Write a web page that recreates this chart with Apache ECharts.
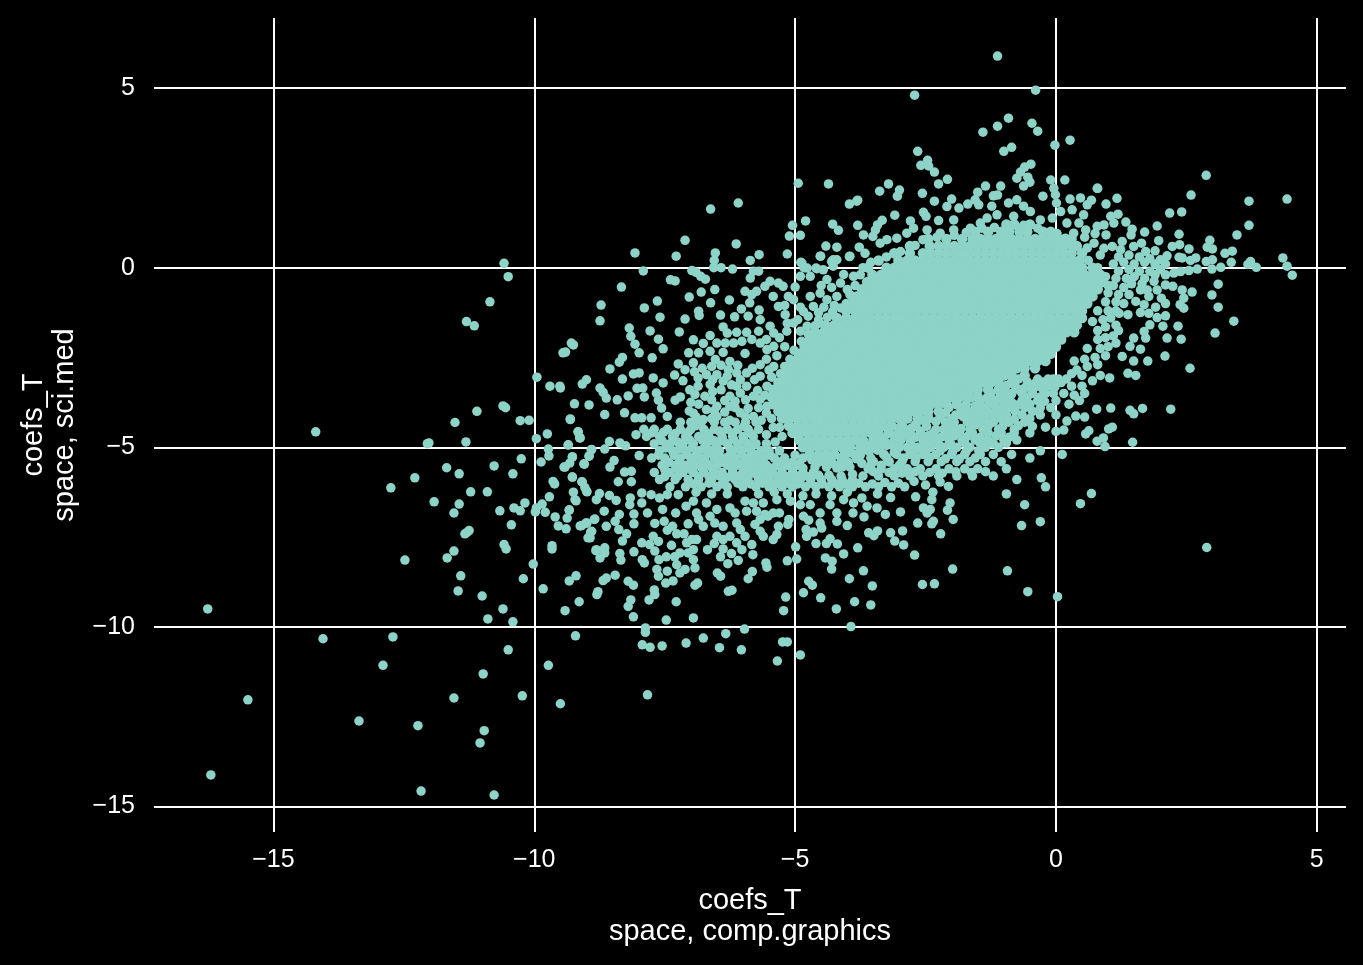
<!DOCTYPE html>
<html><head><meta charset="utf-8">
<script src="https://cdn.jsdelivr.net/npm/echarts@6/dist/echarts.min.js"></script>
<style>html,body{margin:0;padding:0;background:#000}#c{width:1363px;height:965px}</style>
</head><body><div id="c"></div>
<script>
const xTicks=[-15,-10,-5,0,5];
const yTicks=[-15,-10,-5,0,5];
const xLabel="coefs_T\nspace, comp.graphics";
const yLabel="coefs_T\nspace, sci.med";
// isolated points, [x, y]
const lowerLeftPoints=[[-14.19,-4.57],[-16.26,-9.5],[-15.49,-12.03],[-16.2,-14.12],[-14.05,-10.33],[-12.71,-10.28],[-12.9,-11.07],[-13.36,-12.62],[-12.23,-12.75],[-11.54,-11.98],[-10.98,-11.31],[-10.5,-10.64],[-10.96,-12.89],[-11.04,-13.23],[-12.17,-14.57],[-10.77,-14.68],[-10.23,-11.92],[-9.5,-12.14],[-9.73,-11.07],[-9.21,-10.25],[-10.89,-9.78],[-10.41,-9.86],[-10.6,-9.5],[-11,-9.14],[-11.46,-9],[-11.41,-8.58],[-12.48,-8.14],[-11.67,-8.08],[-11.54,-7.89],[-10.21,-8.66],[-10.02,-8.25],[-9.83,-8.94],[-9.33,-8.72],[-9.2,-8.58],[-9.41,-9.55],[-9.14,-9.3],[-8.8,-9.1],[-8.78,-9.02],[-11.33,-7.41],[-11.25,-7.32],[-11.29,-7.37],[-10.44,-7.16],[-10.58,-7.71],[-10.54,-7.83],[-9.66,-7.74],[-9.66,-7.83],[-10.66,-6.77],[-11.54,-6.83],[-11.44,-6.58],[-11.92,-6.52],[-12.75,-6.13],[-12.29,-5.85],[-11.68,-5.57],[-11.44,-5.74],[-11.22,-6.24],[-10.9,-6.24],[-10.77,-5.52],[-10.41,-5.74],[-10.25,-5.32],[-12.02,-4.88],[-11.31,-4.85],[-11.52,-4.31],[-10.27,-4.26],[-9.96,-4.76],[-9.75,-4.63],[-9.31,-4.23],[-9.16,-4.57],[-9.12,-4.74],[-9.35,-4.93],[-9.73,-5.05],[-9.72,-5.24],[-9.87,-5.41],[-9.27,-5.27],[-9.32,-5.44],[-9.43,-5.55],[-9.04,-5.47],[-8.91,-5.07],[-8.95,-5.24],[-9.27,-5.83],[-9.64,-5.95],[-9.61,-6.02],[-9.08,-5.97],[-9.03,-6.12],[-8.99,-6.24],[-9.25,-6.25],[-9.2,-6.49],[-9.71,-6.38],[-10.18,-6.55],[-9.85,-6.58],[-9.96,-6.69],[-9.98,-6.8],[-10.39,-6.69],[-10.27,-6.77],[-9.79,-6.81],[-9.6,-6.94],[-9.33,-6.74],[-9.37,-6.97],[-9.54,-7.19],[-9.39,-7.27],[-9.12,-7.19],[-9.01,-7.11],[-8.84,-7],[-8.92,-7.36],[-8.97,-7.52],[-8.82,-7.88],[-9.22,-6.46],[-9.33,-6.75],[-11.1,-4],[-10.6,-3.85],[-10.55,-3.9],[-11.3,-1.5],[-11.15,-1.62],[-10.85,-0.95],[-10.58,0.12],[-10.5,-0.25],[-12.05,-4.9],[-10.1,-4.25],[-9.95,-3.05],[-9.4,-2.35],[-9.25,-2.15],[-9.7,-3.3],[-9.5,-3.35]];
const upperLeftPoints=[[-6.62,1.63],[-6.09,1.8],[-7.11,0.76],[-6.13,0.66],[-8.07,0.41],[-7.28,0.32],[-6.53,0.41],[-6.55,0.2],[-6.56,0],[-6.42,0],[-6.2,-0.04],[-5.69,0.36],[-5.86,0.2],[-7.91,-0.09],[-6.98,-0.08],[-6.9,-0.13],[-6.81,-0.24],[-6.72,-0.32],[-7.39,-0.34],[-7.3,-0.37],[-8.33,-0.54],[-6.54,-0.61],[-6.8,-0.68],[-7.03,-0.82],[-7.64,-0.93],[-8.72,-1.04],[-7.89,-1.12],[-6.62,-0.98],[-6.26,-0.9],[-6.85,-1.21],[-6.84,-1.33],[-6.43,-1.32],[-6.16,-1.37],[-6.03,-1.15],[-5.9,-1.35],[-5.69,-1.18],[-8.74,-1.48],[-7.59,-1.38],[-7.11,-1.43],[-8.18,-1.68],[-7.78,-1.76],[-7.22,-1.79],[-6.38,-1.65],[-6.3,-1.82],[-8.15,-1.91],[-7.62,-1.99],[-8.07,-2.13],[-7.53,-2.26],[-6.95,-2.01],[-9.29,-2.1],[-9.45,-2.37],[-7.99,-2.37],[-7.04,-2.37],[-7.74,-2.51],[-8.31,-2.5],[-8.37,-2.63],[-8.55,-2.82],[-7.99,-2.93],[-8.1,-2.96],[-8.31,-3.1],[-7.72,-3.07],[-7.53,-3.21],[-7.31,-2.99],[-7.24,-2.68],[-7.11,-2.84],[-6.95,-2.65],[-9,-3.12],[-9.08,-3.24],[-9.51,-3.3],[-8.74,-3.35],[-8.68,-3.47],[-8.62,-3.63],[-8.41,-3.68],[-8.2,-3.57],[-8.03,-3.36],[-7.92,-3.35],[-7.89,-3.6],[-7.66,-3.49],[-7.62,-3.69],[-7.56,-3.91],[-7.3,-3.69],[-9.23,-3.79],[-8.95,-3.82],[-8.65,-4.09],[-8.27,-4.04],[-9.31,-4.21],[-8.07,-4.18],[-7.94,-4.18],[-7.76,-4.18],[-7.45,-4.14],[-7.03,-3.99],[-9.16,-4.57],[-9.13,-4.74],[-8.05,-4.65],[-9.35,-4.94],[-8.56,-4.84],[-8.36,-4.88],[-8.25,-4.96],[-8.9,-5.06],[-8.65,-5.05],[-8.95,-5.25],[-7.99,-5.23],[-9.27,-5.27],[-9.41,-5.55],[-9.05,-5.46],[-8.47,-5.37],[-8.55,-5.55],[-9.27,-5.83],[-8.27,-5.69],[-8.14,-5.67],[-8.14,-5.96],[-8.39,-5.96],[-9.09,-5.96],[-9,-6.22],[-8.75,-6.29],[-8.56,-6.34],[-8.16,-6.41],
[-5.8,-0.1],[-5.7,-0.1],[-5.86,-0.29],[-5.48,-0.38],[-5.58,-0.52],[-5.32,-0.43],[-5.23,-0.52],[-5.42,-0.8],[-5.13,-0.8],[-5.32,-1.08],[-5,-0.54],[-4.87,0.13],[-4.77,-0.01],[-4.9,-0.24],[-4.71,-0.24],[-4.58,-0.03],[-4.51,0.32],[-5.96,-0.66],[-5.83,-0.75],[-5.74,-0.66],[-5.87,-0.98],[-5.19,-1.31],[-4.84,-1.22],[-5.03,-0.89],[-4.65,-1.08],[-4.39,-0.33],[-4.13,-0.43],[-4.46,-0.06],[-4.27,0.04],[-4.07,-0.19],[-3.88,-0.24],[-4.27,0.22],[-3.95,0.32],[-4.52,-0.71],[-4.39,-0.89],[-4.2,-0.8],[-4,-0.61],[-4.71,-0.8],[-5.03,-1.54],[-4.9,-1.77],[-4.77,-1.63],[-5.16,-1.77],[-5.48,-1.63],[-5.67,-1.45],[-5.41,-1.82],[-5.7,-1.77],[-5.93,-1.8],[-6.12,-1.8],[-6.63,-1.89],[-6.76,-2.11],[-6.85,-2.37],[-6.5,-2.1],[-6.34,-2.1],[-6.18,-2.1],[-6.02,-2.05],[-5.83,-2],[-5.67,-2.1],[-5.41,-2.19],[-6.63,-2.33],[-6.38,-2.36],[-5.96,-2.39],[-5.67,-2.7],[-5.54,-2.28],[-6.25,-2.61],[-6.28,-2.84],[-6.53,-2.56],[-6.7,-2.98],[-6.5,-2.98],[-6.38,-3.16],[-6.22,-3.26],[-6.86,-3.07],[-7.02,-3.4],[-6.86,-3.3],[-6.63,-3.25],[-6.73,-3.58],[-6.92,-3.53],[-6.12,-2.93],[-5.93,-2.93],[-5.67,-3.02],[-5.41,-2.75],[-5.93,-3.3],[-6.05,-3.49],[-6.25,-3.58],[-5.67,-3.67],[-5.35,-3.58],[-5.54,-3.3],[-5.8,-3.58],[-6.5,-3.86],[-6.7,-3.95],[-6.76,-4.23],[-6.5,-4.14],[-6.25,-3.86],[-6.05,-4.04],[-5.8,-4.14],[-5.54,-3.86],[-5.28,-4.04],[-5.03,-3.86]];
const topPoints=[[-1.12,5.89],[-0.39,4.94],[-2.71,4.8],[-0.91,4.16],[-1.12,3.94],[-1.4,3.77],[-0.46,4.02],[-0.35,3.8],[-0.02,3.41],[0.27,3.55],[-0.85,3.35],[-1,3.24],[-2.65,3.24],[-2.46,2.99],[-2.59,2.85],[-2.44,2.83],[-2.33,2.66],[-2.08,2.46],[-2.25,2.33],[-0.48,2.88],[-0.6,2.8],[-0.68,2.66],[-0.75,2.49],[-0.54,2.52],[-0.5,2.38],[-0.62,2.27],[-0.1,2.44],[0.17,2.44],[-4.94,2.35],[-4.36,2.33],[-3.21,2.33],[-3.38,2.13],[-3,2.16],[-3.04,1.99],[-2.56,2.07],[-3.8,1.88],[-3.96,1.77],[-2.33,1.85],[-2,1.91],[-1.35,2.27],[-1.06,2.27],[-1.5,2.1],[-1.12,2.02],[-1.2,2],[-0.25,1.99],[-0.04,2.21],[-0.01,2.03],[0.01,1.8],[0.27,1.91],[0.47,1.94],[0.68,1.88],[0.6,1.75],[0.79,2.21],[-1.55,1.89],[-1.48,1.75],[-1.69,1.77],[-2.09,1.7],[-1.86,1.66],[-1.23,1.71],[-0.75,1.89],[-0.91,1.8],[-0.62,1.71],[-3.09,1.46],[-2.54,1.54],[-2.49,1.43],[-2.79,1.3],[-2.25,1.31],[-3.33,1.32],[-3.42,1.19],[-3.8,1.18],[-4.28,1.21],[-4.17,1.04],[-5.05,1.18],[-5.11,0.88],[-5.15,0.38],[-3.46,1.05],[-3.69,0.91],[-3.51,0.87],[-4.41,0.6],[-4.2,0.57],[-4.52,0.32],[-3.77,0.57],[-3.96,0.31],[-4.89,0.15],[-4.83,0],[-4.6,-0.01],[-4.2,0.22],[-4.3,0.17],[-3.66,0.4],[-3.37,0.68],[-3.05,0.82],[-3.24,0.78],[-2.86,0.96],[-2.73,1.1],[-2.47,1.05],[-2.22,0.96],[-1.96,1.05],[-1.96,1.33],[-1.64,1.1],[-1.45,1.24],[-1.13,1.47],[-1.32,1.38],[-0.81,1.43],[-0.49,1.56],[-0.3,1.33],[0.09,1.56],[0.31,1.61],[0.53,1.47],[0.44,1.24],[0.57,1.05],[0.79,1.15],[0.21,1.24],[-0.07,1.38],[0.73,0.68],[0.34,0.96],[-3.82,1.85],[-4.9,0.9],[-4.8,1.3]];
const rightPoints=[[2.88,2.57],[2.59,2.02],[4.43,1.91],[3.7,1.85],[3.7,1.18],[2.41,1.55],[2.18,1.52],[3.47,0.91],[1.94,1.16],[2.36,0.93],[2.95,0.76],[2.9,0.57],[3,0.52],[2.55,0.52],[2.23,0.59],[2.37,0.64],[1.97,0.75],[3.24,0.4],[3.38,0.46],[3.36,0.15],[3.73,0.17],[3.68,0.09],[3.84,0.01],[4.35,0.27],[4.43,0.04],[4.53,-0.21],[3.16,0.01],[2.99,-0.04],[3,0.22],[2.88,0.17],[2.68,0.27],[2.58,0.2],[2.42,0.27],[2.36,0.29],[2.71,-0.04],[2.55,-0.08],[2.39,-0.11],[2.26,-0.15],[2.1,-0.2],[2.13,0.33],[2,0.22],[1.9,0.47],[1.72,0.45],[3.11,-0.46],[2.99,-0.76],[3.11,-1.1],[3.41,-1.49],[3.05,-1.82],[2.61,-0.68],[2.42,-0.62],[2.45,-0.85],[2.38,-1.03],[2.45,-1.13],[2.24,-0.52],[2.1,-0.48],[2.1,-1],[2.02,-0.85],[1.94,-0.62],[1.88,-0.38],[1.75,-0.62],[1.62,-0.62],[1.78,-0.8],[1.53,-0.94],[1.69,-1.03],[1.91,-1.1],[2.1,-1.34],[1.94,-1.39],[1.78,-1.27],[1.62,-1.25],[1.38,-1.31],[1.21,-1.27],[2.05,-1.63],[2.34,-1.63],[1.8,-1.59],[2.13,-1.96],[2.4,-1.99],[1.69,-1.78],[1.72,-1.96],[1.49,-1.96],[1.42,-2.19],[1.62,-2.27],[1.27,-2.47],[1.49,-2.6],[1.76,-2.6],[2.09,-2.46],[2.57,-2.8],[1.38,-2.94],[1.53,-3],[1.03,-3.07],[2.2,-3.94],[1.42,-3.97],[1.49,-4.07],[1.05,-3.91],[0.78,-3.94],[0.55,-4.16],[0.38,-4.13],[0.21,-4.27],[0,-4.56],[0.15,-4.52],[-0.2,-4.44],[0.57,-4.63],[0.63,-4.54],[1.01,-4.49],[1.08,-4.44],[0.79,-4.83],[0.91,-4.74],[0.94,-4.98],[1.47,-4.86],[0.8,2.21],[1.17,1.93],[0.96,1.77],[1.19,1.49],[1.05,1.43],[1.11,1.24],[0.92,1.19],[1.34,1.27],[1.46,1.07],[1.44,0.91],[1.7,0.99],[1.64,0.68],[0.96,0.91],[1.27,0.73],[1.49,0.59],[1.08,0.59],[0.92,0.54],[1.24,0.5],[0.55,0.85],[0.75,0.95],[0.6,0.55],[0.85,0.35],[1.2,0.3],[1.4,0.35],[1.6,0.3],[1.8,0.25],[1.1,0.1],[1.3,0.15],[1.5,0.1],[1.7,0.15],[1.9,0.1],[2.1,0.1],[1.2,-0.1],[1.4,-0.05],[1.6,-0.1],[1.8,-0.1],[2,-0.05],[1.15,-0.3],[1.35,-0.3],[1.5,-0.25],[1.7,-0.3],[1.9,-0.2],[1.1,-0.5],[1.3,-0.55],[1.45,-0.45],[1.65,-0.45],[1,-0.7],[1.2,-0.75],[1.4,-0.75],[0.95,-0.95],[1.15,-0.95],[1.3,-1],[0.8,-1.2],[1,-1.2],[1.15,-1.2],[0.7,-1.5],[0.9,-1.45],[1.05,-1.4],[1.15,-1.6],[0.95,-1.65],[0.8,-1.75],[1.2,-1.75],[1.1,-1.9],[0.95,-1.95],[0.8,-2],[1.15,-2.1],[1,-2.2],[0.85,-2.25],[0.6,-2.25],[0.95,-2.45],[0.75,-2.5],[0.55,-2.55],[0.35,-2.6],[0.8,-2.7],[0.6,-2.75],[0.4,-2.85],[0.3,-2.95],[0.5,-3],[0.7,-3.15],[0.85,-3],[0.1,-3.2],[0.3,-3.3],[0.5,-3.3],[0.15,-3.5],[0.35,-3.55],[0.55,-3.5],[0.25,-3.8],[0.45,-3.7],[0,-3.7],[-0.2,-3.5],[-0.1,-3.9],[-0.3,-4.1],[0,-4.1],[1.66,-3.92],[0.12,-5.2],[-0.2,-6.1],[-0.28,-5.85],[0.47,-6.57],[0.68,-6.29],[2.89,-7.79],[0.03,-9.16],[-0.54,-9.02],[-0.93,-8.44],[-0.66,-7.18],[-0.3,-7.07],[-0.5,-5.3],[-0.3,-5.1],[-0.75,-5.9],[-0.95,-6.3],[-0.6,-6.6]];
const bottomPoints=[[-7.83,-11.89],[-7.93,-10.5],[-7.78,-10.57],[-7.55,-10.53],[-7.09,-10.45],[-6.76,-10.31],[-6.33,-10.19],[-6.45,-10.58],[-6.03,-10.64],[-5.97,-10.06],[-7.87,-10.03],[-7.87,-10.15],[-5.24,-10.42],[-5.15,-10.42],[-5.34,-10.95],[-4.9,-10.78],[-3.93,-9.99],[-7.47,-9.81],[-6.95,-9.75],[-8.1,-9.72],[-7.28,-9.3],[-8.2,-9.43],[-8.15,-9.25],[-7.8,-9.25],[-7.7,-8.97],[-7.69,-9.1],[-8.68,-8.71],[-8.62,-8.64],[-8.45,-8.56],[-8.2,-8.73],[-8.1,-8.84],[-7.48,-8.78],[-7.34,-8.72],[-6.92,-8.84],[-6.87,-8.78],[-6.28,-9.01],[-6.21,-8.98],[-6.49,-8.5],[-6.43,-8.59],[-5.9,-8.66],[-5.82,-8.46],[-5.56,-8.22],[-5.54,-8.34],[-5.15,-8.16],[-4.97,-8.11],[-4.99,-7.77],[-5.18,-9.17],[-5.22,-9.55],[-4.84,-9.05],[-4.74,-8.73],[-4.67,-8.84],[-4.51,-9.19],[-4.21,-9.5],[-3.86,-9.3],[-3.55,-9.39],[-3.52,-8.86],[-3.96,-8.66],[-3.69,-8.44],[-4.3,-8.39],[-4.29,-8.17],[-4.42,-8.08],[-4.07,-7.97],[-3.8,-7.8],[-2.71,-8],[-2.92,-7.72],[-3.09,-7.61],[-3.17,-7.38],[-2.94,-7.33],[-3.59,-7.38],[-3.49,-7.46],[-3.42,-7.33],[-1.98,-8.39],[-2.33,-8.8],[-2.56,-8.82],[-2.21,-7.41],[-2.65,-7.11],[-2.35,-7.06],[-2.38,-7.13],[-1.97,-7.01],[-2.03,-6.55],[-2.08,-6.75],[-2.41,-6.73],[-2.54,-6.69],[-2.47,-6.83],[-2.38,-6.46],[-2.36,-6.25],[-2.69,-6.38],[-2.98,-6.8],[-3.27,-6.87],[-3.43,-6.69],[-3.68,-6.94],[-3.89,-6.83],[-4,-7.18],[-4.2,-7.06],[-4.49,-7.25],[-4.65,-7.36],[-4.79,-7.29],[-4.78,-7.48],[-4.6,-7.68],[-4.4,-7.68],[-4.19,-7.69],[-4.33,-7.55],[-4.74,-7.03],[-4.84,-6.92],[-4.52,-6.83],[-4.52,-7.11],[-2.06,-6.09],[-2.22,-5.97],
[-9.09,-7.18],[-8.99,-7.11],[-8.85,-7.01],[-8.66,-6.78],[-8.81,-6.46],[-8.43,-6.48],[-8.17,-6.6],[-8.09,-6.86],[-8.37,-6.87],[-8.45,-7.06],[-8.38,-7.29],[-8.09,-7.13],[-8.62,-7.2],[-8.9,-7.34],[-8.93,-7.52],[-8.23,-7.41],[-8.31,-7.61],[-8.81,-7.85],[-8.65,-7.8],[-8.74,-8.08],[-8.65,-7.94],[-8.36,-7.96],[-8.34,-8.14],[-8.09,-7.91],[-7.93,-8.13],[-7.89,-8.22],[-7.94,-7.66],[-7.83,-6.83],[-7.69,-7.12],[-7.54,-6.73],[-7.51,-7.06],[-7.45,-7.31],[-7.35,-7.2],[-7.27,-7.41],[-7.13,-7.41],[-7.29,-6.83],[-7.05,-7.13],[-7.94,-6.27],[-7.94,-6.55],[-7.76,-6.32],[-7.6,-6.41],[-7.45,-6.32],[-7.24,-6.32],[-7.09,-6.64],[-6.95,-6.5],[-6.7,-6.55],[-6.89,-6.83],[-6.85,-7.01],[-6.76,-7.2],[-6.63,-6.92],[-6.5,-6.73],[-6.38,-7.2],[-6.54,-7.11],[-6.25,-6.69],[-6.15,-6.83],[-6.12,-7.11],[-6.05,-7.29],[-5.96,-7.48],[-6.5,-7.48],[-6.38,-7.57],[-6.25,-7.48],[-6.12,-7.66],[-6.02,-7.85],[-5.83,-7.71],[-5.81,-7.99],[-6.09,-8.15],[-6.29,-8.24],[-6.43,-8.05],[-6.22,-7.96],[-6.38,-7.83],[-6.55,-7.68],[-6.68,-7.85],[-6.89,-7.57],[-6.98,-7.57],[-7.08,-7.66],[-6.95,-7.85],[-7.05,-7.94],[-7.21,-7.94],[-7.31,-8.05],[-7.47,-8.05],[-7.61,-8.13],[-7.69,-7.89],[-7.79,-7.71],[-7.72,-7.48],[-7.62,-7.62],[-7.37,-7.73],[-6.95,-8.13],[-6.92,-8.36],[-7.11,-8.4],[-7.21,-8.5],[-7.27,-8.27],[-7.45,-8.45],[-7.65,-8.4],[-7.62,-8.59],[-5.67,-7.34],[-5.61,-7.48],[-5.42,-7.57],[-5.35,-7.43],[-5.32,-7.2],[-5.14,-7.15],[-5.12,-7.01],[-5.52,-6.92],[-5.67,-7.01],[-5.77,-7.15],[-5.93,-6.78],[-5.74,-6.78],[-5.58,-6.87],[-5.42,-6.83],[-5.3,-6.83],[-5.8,-6.55],[-5.96,-6.5],[-5.61,-6.55],[-5.35,-6.46],[-5.09,-6.5],[-4.9,-6.6],[-4.71,-6.6],[-4.33,-6.6],[-4.2,-6.83],[-4.07,-6.46],[-3.88,-6.55],[-3.72,-6.41],[-3.62,-6.64],[-3.17,-6.4],[-3.42,-6.3],[-6.3,-6.3],[-6.6,-6.3],[-6.9,-6.25],[-5.7,-6.3],[-5.4,-6.25],[-5.15,-6.3],[-4.85,-6.35],[-4.6,-6.3],[-4.3,-6.35],[-4,-6.25]];
const midCloudPoints=[[-6.93,-2.9],[-6.6,-2.75],[-6.42,-2.72],[-6.1,-2.72],[-5.82,-2.8],[-5.55,-2.55],[-5.45,-3.05],[-5.78,-3.12],[-6.05,-3.12],[-6.3,-3.02],[-6.58,-3.12],[-6.78,-2.8],[-7.15,-3.15],[-7.2,-3.6],[-7,-3.75],[-6.85,-3.8],[-6.58,-3.45],[-6.42,-3.4],[-6.12,-3.3],[-5.72,-3.42],[-5.58,-3.55],[-6.35,-3.7],[-6.6,-3.68],[-6.15,-3.72],[-5.95,-3.68],[-6.95,-4.05],[-6.55,-3.98],[-6.35,-4.02],[-6.15,-3.9],[-5.9,-3.92],[-5.7,-3.9],[-6.9,-4.15],[-6.6,-4.2],[-6.25,-4.25],[-5.95,-4.15],[-5.65,-4.25],[-5.55,-4.05],[-5.35,-3.78],[-5.45,-4.2],[-5.42,-4.45],[-5.55,-4.65],[-5.38,-4.85],[-5.25,-4.7],[-5.3,-4.45],[-5.55,-2],[-5.35,-2.45],[-5.5,-2.85],[-5.3,-1.95],[-5.2,-2.2],[-5.15,-1.55],[-4.95,-1.45],[-4.75,-1.35],[-4.55,-1.25],[-4.55,-1.45],[-4.9,-1.1],[-5.2,-1.05],[-4.5,-0.5],[-4.3,-0.55],[-4.25,-1.05],[-4.45,-1.1],[-7.75,-4.6],[-7.52,-4.58],[-7.3,-4.62],[-7.05,-4.58],[-6.9,-4.4],[-6.7,-4.6],[-6.45,-4.55],[-6.2,-4.6],[-5.98,-4.42],[-5.85,-4.62],[-7.55,-4.82],[-7.25,-4.85],[-7.02,-4.8],[-6.78,-4.8],[-6.55,-4.82],[-6.38,-4.82],[-6.18,-4.78],[-5.98,-4.8],[-5.8,-4.95],[-7.48,-5.02],[-7.22,-5.05],[-6.98,-5.02],[-6.75,-5.03],[-6.52,-4.98],[-6.25,-5.03],[-5.95,-5.02],[-5.72,-5.2],[-7.62,-5.22],[-7.32,-5.22],[-7.08,-5.2],[-6.9,-5.22],[-6.68,-5.18],[-6.48,-5.22],[-6.25,-5.22],[-6.03,-5.2],[-5.85,-5.24],[-5.48,-5.22],[-7.42,-5.42],[-7.22,-5.41],[-6.95,-5.42],[-6.72,-5.4],[-6.42,-5.42],[-6.2,-5.4],[-6,-5.42],[-5.82,-5.42],[-5.62,-5.41],[-5.3,-5.41],[-5.05,-5.42],[-7.5,-5.62],[-7.25,-5.6],[-7,-5.62],[-6.78,-5.6],[-6.58,-5.61],[-6.2,-5.6],[-5.98,-5.62],[-5.8,-5.6],[-5.6,-5.62],[-5.42,-5.58],[-5.25,-5.6],[-5.05,-5.62],[-4.85,-5.58],[-4.62,-5.55],[-7.5,-5.82],[-7.25,-5.8],[-6.85,-5.82],[-6.65,-5.82],[-6.45,-5.8],[-6.25,-5.82],[-6.08,-5.8],[-5.9,-5.82],[-5.72,-5.8],[-5.55,-5.82],[-5.35,-5.8],[-5.15,-5.82],[-4.95,-5.8],[-4.75,-5.82],[-4.55,-5.78],[-4.4,-5.55],[-4.2,-5.58],[-4.35,-5.78],[-4.12,-5.8],[-3.95,-5.55],[-3.9,-5.75],[-6.95,-6.02],[-6.65,-6],[-6.4,-6.02],[-6.1,-6],[-5.85,-6.02],[-5.62,-6],[-5.38,-6.02],[-5.15,-6],[-4.95,-6.02],[-4.7,-6],[-4.48,-6.02],[-4.25,-6],[-4.02,-6.02],[-3.78,-6],[-3.52,-6.02],[-3.28,-5.98],[-3.02,-6],[-2.72,-5.95],[-2.5,-6.05],[-3.75,-5.22],[-3.55,-5.3],[-3.42,-5.08],[-3.35,-5.5],[-3.25,-5.28],[-3.1,-5.15],[-3,-5.5],[-2.92,-5.3],[-2.7,-5.08],[-2.68,-5.3],[-2.5,-5.12],[-2.42,-5.28],[-2.22,-5.1],[-2.12,-5.32],[-1.98,-5.12],[-1.85,-5.32],[-1.72,-5.12],[-1.55,-5.3],[-1.48,-5.1],[-3.5,-5.68],[-3.2,-5.7],[-2.95,-5.72],[-2.7,-5.68],[-2.42,-5.7],[-2.18,-5.72],[-1.92,-5.68],[-1.62,-5.7],[-1.35,-5.68],[-2.95,-4.7],[-2.68,-4.72],[-2.45,-4.68],[-2.2,-4.72],[-1.95,-4.68],[-1.7,-4.7],[-1.45,-4.72],[-1.15,-4.68],[-0.9,-4.72],[-2.78,-4.9],[-2.5,-4.9],[-2.25,-4.92],[-2.02,-4.9],[-1.75,-4.88],[-1.45,-4.9],[-1.2,-4.9],[-0.95,-4.88],[-2.3,-4.5],[-2.05,-4.4],[-1.82,-4.48],[-1.55,-4.38],[-1.3,-4.42],[-1.02,-4.42],[-0.72,-4.4],[-0.45,-4.42],[-2,-4.2],[-1.6,-4.2],[-1.35,-4.22],[-1.05,-4.2],[-0.8,-4.22],[-0.5,-4.2],[-1.55,-4],[-1.3,-4.02],[-1.05,-4],[-0.78,-4],[-0.45,-4],[-1.28,-3.8],[-1,-3.8],[-0.75,-3.82],[-0.5,-3.8],[-0.22,-3.72],[-0.95,-3.6],[-0.55,-3.6],[-0.3,-3.6],[-0.05,-3.5],[-0.7,-3.4],[-0.45,-3.42],[-0.25,-3.38],[-0.02,-3.32],[0.2,-3.1],[-0.25,-3.18],[-0.05,-3.1]];
// band along the lower right edge of the solid core
const edgePoints=[[-0.72,-3.1],[-0.55,-3.18],[-0.95,-3.28],[-0.78,-3.3],[-0.98,-3.45],[-0.85,-3.52],[-1.25,-3.5],[-1.08,-3.62],[-1.32,-3.62],[-1.45,-3.72],[-1.62,-3.62],[-1.2,-3.72],[-1.72,-3.8],[-1.55,-3.85],[-1.4,-3.9],[-1.82,-3.95],[-1.68,-4],[-2.05,-3.9],[-2.12,-4.05],[-1.92,-4.1],[-1.78,-4.15],[-2.22,-4.15],[-2.45,-4.1],[-2.3,-4.28],[-2.12,-4.3],[-2.55,-4.25],[-2.68,-4.35],[-2.48,-4.42],[-2.78,-4.48],[-2.6,-4.55],[-2.88,-4.58],[-3.02,-4.48],[-2.78,-4.65],[-3.08,-4.68],[-3.12,-4.85],[-2.98,-4.82],[-3.35,-4.72],[-3.42,-4.88],[-3.25,-4.95],[-3.6,-4.95],[-3.38,-5.02],[-3.58,-5.12],[-3.7,-5.08],[-3.95,-5.15],[-3.82,-5.32],[-4.12,-5.3],[-3.98,-5.42],[-4.28,-5.45],[-4.45,-5.38],[-4.68,-5.35],[-4.85,-5.3],[-5,-5.22],[-4.92,-5.45],[-4.1,-5.55],[-3.72,-5.45],[-3.55,-5.5],[-3.2,-5.4],[-0.6,-3.35],[-0.4,-3.22],[-0.85,-3.75],[-1.15,-3.95],[-1.55,-4.35],[-2.02,-4.55],[-2.35,-4.85],[-2.65,-5],[-3,-5],[-3.3,-5.2],[-4.55,-1.55],[-4.38,-1.38],[-4.75,-1.85],[-4.62,-1.62],[-4.88,-2.05],[-5.02,-2.3],[-5.1,-2.55],[-5.2,-2.75],[-5.28,-2.95],[-4.28,-1.22],[-4.12,-1.12],[-4.02,-1],[-3.95,-0.75],[-3.85,-0.5],[-3.75,-0.2],[-3.7,0],[-3.55,0.15],[-3.25,0.3],[-2.98,0.45],[-2.7,0.62],[-2.55,0.78],[-2.28,0.85],[-1.95,0.9],[-1.72,0.98],[-1.42,1.1],[-1.18,1.12],[-0.62,1.18],[-0.35,1.1],[0.02,0.95],[0.18,0.82],[0.28,0.62],[0.62,0.2],[0.8,0],[0.95,-0.25],[1,-0.5]];
// densely packed parts of the cloud: [y, x, x, ...]
const flankRows=[
[-4.3,-7.2,-7,-6.8,-6.55,-6.35,-6.15,-5.95,-5.75],
[-4.5,-7.9,-7.7,-7.45,-7.2,-7,-6.75,-6.55,-6.3,-6.1,-5.9,-5.7],
[-4.7,-7.85,-7.6,-7.35,-7.1,-6.85,-6.65,-6.4,-6.2,-6,-5.8],
[-4.9,-7.7,-7.4,-7.15,-6.95,-6.7,-6.5,-6.3,-6.1,-5.9,-5.75,-5.55],
[-5.1,-7.6,-7.35,-7.1,-6.85,-6.6,-6.45,-6.2,-6.05,-5.85,-5.65,-5.5,-5.3],
[-5.3,-7.75,-7.5,-7.2,-7,-6.8,-6.55,-6.35,-6.15,-5.95,-5.75,-5.6,-5.4,-5.2],
[-5.5,-7.55,-7.3,-7.1,-6.85,-6.65,-6.5,-6.3,-6.1,-5.9,-5.7,-5.55,-5.35,-5.15,-4.95],
[-5.7,-7.7,-7.4,-7.15,-6.95,-6.75,-6.55,-6.4,-6.2,-6,-5.85,-5.65,-5.45,-5.25,-5.05,-4.85,-4.65],
[-5.9,-7.6,-7.3,-7.05,-6.85,-6.6,-6.35,-6.15,-5.95,-5.7,-5.5,-5.3,-5.1,-4.9,-4.7,-4.5,-4.3,-4.1,-3.9],
[-6.1,-7.4,-7.1,-6.8,-6.5,-6.3,-6,-5.75,-5.5,-5.25,-5.05,-4.8,-4.6,-4.35,-4.15,-3.9,-3.65,-3.4,-3.15,-2.9],
[-4.6,-2.6,-2.35,-2.1,-1.85,-1.6,-1.3,-1.05,-0.8,-0.5],
[-4.8,-2.8,-2.55,-2.3,-2.05,-1.8,-1.55,-1.3,-1,-0.75],
[-5,-3.1,-2.85,-2.6,-2.4,-2.15,-1.9,-1.65,-1.35,-1.1],
[-5.2,-3.3,-3.05,-2.8,-2.55,-2.3,-2,-1.75,-1.45,-1.2,-0.85],
[-5.4,-3.5,-3.2,-2.95,-2.7,-2.45,-2.2,-1.9,-1.65,-1.35,-1.05],
[-5.6,-3.6,-3.35,-3.1,-2.85,-2.6,-2.3,-2.05,-1.75,-1.5,-0.95],
[-5.8,-3.7,-3.4,-3.1,-2.8,-2.55,-2.25,-1.9,-1.6,-1.2],
[-3.1,-0.35,-0.15,0.05],[-3.3,-0.55,-0.35,-0.15],[-3.5,-0.85,-0.65,-0.45],[-3.7,-1.15,-0.9,-0.65,-0.35],[-3.9,-1.4,-1.15,-0.9,-0.6,-0.3],[-4.1,-1.7,-1.45,-1.2,-0.95,-0.65],[-4.3,-1.95,-1.7,-1.45,-1.2,-0.9,-0.6],[-4.5,-2.15,-1.9,-1.65,-1.4,-1.1,-0.8]
];
const coreRowsUpper=[
[1.2,-0.95,-0.8,-0.5],
[1,-1.55,-1.3,-1.05,-0.9,-0.7,-0.55,-0.25,-0.1],
[0.8,-2.45,-2.1,-1.8,-1.6,-1.45,-1.3,-1.15,-1,-0.85,-0.7,-0.55,-0.4,-0.25,-0.1,0.05,0.3],
[0.6,-2.8,-2.42,-2.25,-2.1,-1.95,-1.8,-1.65,-1.5,-1.35,-1.2,-1.05,-0.9,-0.75,-0.6,-0.45,-0.3,-0.15,0,0.15,0.4],
[0.4,-3.1,-2.8,-2.55,-2.4,-2.25,-2.1,-1.95,-1.8,-1.65,-1.5,-1.35,-1.2,-1.05,-0.9,-0.75,-0.6,-0.45,-0.3,-0.15,0,0.15,0.3,0.5],
[0.2,-3.4,-3.02,-2.85,-2.7,-2.55,-2.4,-2.25,-2.1,-1.95,-1.8,-1.65,-1.5,-1.35,-1.2,-1.05,-0.9,-0.75,-0.6,-0.45,-0.3,-0.15,0,0.15,0.3,0.45],
[0,-3.6,-3.25,-3.1,-2.95,-2.8,-2.65,-2.5,-2.35,-2.2,-2.05,-1.9,-1.75,-1.6,-1.45,-1.3,-1.15,-1,-0.85,-0.7,-0.55,-0.4,-0.25,-0.1,0.05,0.2,0.35,0.5,0.7],
[-0.2,-3.52,-3.35,-3.2,-3.05,-2.9,-2.75,-2.6,-2.45,-2.3,-2.15,-2,-1.85,-1.7,-1.55,-1.4,-1.25,-1.1,-0.95,-0.8,-0.65,-0.5,-0.35,-0.2,-0.05,0.1,0.25,0.4,0.55,0.7,0.85],
[-0.4,-3.62,-3.45,-3.3,-3.15,-3,-2.85,-2.7,-2.55,-2.4,-2.25,-2.1,-1.95,-1.8,-1.65,-1.5,-1.35,-1.2,-1.05,-0.9,-0.75,-0.6,-0.45,-0.3,-0.15,0,0.15,0.3,0.45,0.6,0.75,0.9],
[-0.6,-3.72,-3.55,-3.4,-3.25,-3.1,-2.95,-2.8,-2.65,-2.5,-2.35,-2.2,-2.05,-1.9,-1.75,-1.6,-1.45,-1.3,-1.15,-1,-0.85,-0.7,-0.55,-0.4,-0.25,-0.1,0.05,0.2,0.35,0.5,0.65,0.8],
[-0.8,-3.82,-3.65,-3.5,-3.35,-3.2,-3.05,-2.9,-2.75,-2.6,-2.45,-2.3,-2.15,-2,-1.85,-1.7,-1.55,-1.4,-1.25,-1.1,-0.95,-0.8,-0.65,-0.5,-0.35,-0.2,-0.05,0.1,0.25,0.4,0.55,0.7],
[-1,-3.92,-3.75,-3.6,-3.45,-3.3,-3.15,-3,-2.85,-2.7,-2.55,-2.4,-2.25,-2.1,-1.95,-1.8,-1.65,-1.5,-1.35,-1.2,-1.05,-0.9,-0.75,-0.6,-0.45,-0.3,-0.15,0,0.15,0.3,0.45,0.6],
[-1.2,-4.02,-3.85,-3.7,-3.55,-3.4,-3.25,-3.1,-2.95,-2.8,-2.65,-2.5,-2.35,-2.2,-2.05,-1.9,-1.75,-1.6,-1.45,-1.3,-1.15,-1,-0.85,-0.7,-0.55,-0.4,-0.25,-0.1,0.05,0.2,0.35,0.5]
];
const coreRowsMiddle=[
[-1.4,-4.2,-4.02,-3.85,-3.7,-3.55,-3.4,-3.25,-3.1,-2.95,-2.8,-2.65,-2.5,-2.35,-2.2,-2.05,-1.9,-1.75,-1.6,-1.45,-1.3,-1.15,-1,-0.85,-0.7,-0.55,-0.4,-0.25,-0.1,0.05,0.2,0.35,0.5],
[-1.6,-4.42,-4.25,-4.1,-3.95,-3.8,-3.65,-3.5,-3.35,-3.2,-3.05,-2.9,-2.75,-2.6,-2.45,-2.3,-2.15,-2,-1.85,-1.7,-1.55,-1.4,-1.25,-1.1,-0.95,-0.8,-0.65,-0.5,-0.35,-0.2,-0.05,0.1,0.25,0.4],
[-1.8,-4.62,-4.45,-4.3,-4.15,-4,-3.85,-3.7,-3.55,-3.4,-3.25,-3.1,-2.95,-2.8,-2.65,-2.5,-2.35,-2.2,-2.05,-1.9,-1.75,-1.6,-1.45,-1.3,-1.15,-1,-0.85,-0.7,-0.55,-0.4,-0.25,-0.1,0.05,0.2,0.35],
[-2,-4.72,-4.55,-4.4,-4.25,-4.1,-3.95,-3.8,-3.65,-3.5,-3.35,-3.2,-3.05,-2.9,-2.75,-2.6,-2.45,-2.3,-2.15,-2,-1.85,-1.7,-1.55,-1.4,-1.25,-1.1,-0.95,-0.8,-0.65,-0.5,-0.35,-0.2,-0.05,0.1],
[-2.2,-4.82,-4.65,-4.5,-4.35,-4.2,-4.05,-3.9,-3.75,-3.6,-3.45,-3.3,-3.15,-3,-2.85,-2.7,-2.55,-2.4,-2.25,-2.1,-1.95,-1.8,-1.65,-1.5,-1.35,-1.2,-1.05,-0.9,-0.75,-0.6,-0.45,-0.3,-0.15,0],
[-2.4,-4.92,-4.75,-4.6,-4.45,-4.3,-4.15,-4,-3.85,-3.7,-3.55,-3.4,-3.25,-3.1,-2.95,-2.8,-2.65,-2.5,-2.35,-2.2,-2.05,-1.9,-1.75,-1.6,-1.45,-1.3,-1.15,-1,-0.85,-0.7,-0.55,-0.4,-0.25,-0.1],
[-2.6,-5.02,-4.85,-4.7,-4.55,-4.4,-4.25,-4.1,-3.95,-3.8,-3.65,-3.5,-3.35,-3.2,-3.05,-2.9,-2.75,-2.6,-2.45,-2.3,-2.15,-2,-1.85,-1.7,-1.55,-1.4,-1.25,-1.1,-0.95,-0.8,-0.65,-0.5,-0.35,-0.2],
[-2.8,-5.12,-4.95,-4.8,-4.65,-4.5,-4.35,-4.2,-4.05,-3.9,-3.75,-3.6,-3.45,-3.3,-3.15,-3,-2.85,-2.7,-2.55,-2.4,-2.25,-2.1,-1.95,-1.8,-1.65,-1.5,-1.35,-1.2,-1.05,-0.9,-0.75,-0.6,-0.4],
[-3,-5.22,-5.05,-4.9,-4.75,-4.6,-4.45,-4.3,-4.15,-4,-3.85,-3.7,-3.55,-3.4,-3.25,-3.1,-2.95,-2.8,-2.65,-2.5,-2.35,-2.2,-2.05,-1.9,-1.75,-1.6,-1.45,-1.3,-1.15,-1,-0.85,-0.6]
];
const coreRowsLower=[
[-3.2,-5.32,-5.15,-5,-4.85,-4.7,-4.55,-4.4,-4.25,-4.1,-3.95,-3.8,-3.65,-3.5,-3.35,-3.2,-3.05,-2.9,-2.75,-2.6,-2.45,-2.3,-2.15,-2,-1.85,-1.7,-1.55,-1.4,-1.25,-1.1,-0.85],
[-3.4,-5.42,-5.25,-5.1,-4.95,-4.8,-4.65,-4.5,-4.35,-4.2,-4.05,-3.9,-3.75,-3.6,-3.45,-3.3,-3.15,-3,-2.85,-2.7,-2.55,-2.4,-2.25,-2.1,-1.95,-1.8,-1.65,-1.5,-1.3,-1.1],
[-3.6,-5.45,-5.3,-5.15,-5,-4.85,-4.7,-4.55,-4.4,-4.25,-4.1,-3.95,-3.8,-3.65,-3.5,-3.35,-3.2,-3.05,-2.9,-2.75,-2.6,-2.45,-2.3,-2.15,-2,-1.85,-1.7,-1.5],
[-3.8,-5.42,-5.25,-5.1,-4.95,-4.8,-4.65,-4.5,-4.35,-4.2,-4.05,-3.9,-3.75,-3.6,-3.45,-3.3,-3.15,-3,-2.85,-2.7,-2.55,-2.4,-2.25,-2.1,-1.9],
[-4,-5.32,-5.15,-5,-4.85,-4.7,-4.55,-4.4,-4.25,-4.1,-3.95,-3.8,-3.65,-3.5,-3.35,-3.2,-3.05,-2.9,-2.75,-2.6,-2.45,-2.25],
[-4.2,-5.25,-5.1,-4.95,-4.8,-4.65,-4.5,-4.35,-4.2,-4.05,-3.9,-3.75,-3.6,-3.45,-3.3,-3.15,-3,-2.85,-2.65,-2.45],
[-4.4,-5.12,-4.95,-4.8,-4.65,-4.5,-4.35,-4.2,-4.05,-3.9,-3.75,-3.6,-3.45,-3.3,-3.15,-2.95,-2.7],
[-4.6,-5.05,-4.9,-4.75,-4.6,-4.45,-4.3,-4.15,-4,-3.85,-3.7,-3.55,-3.4,-3.2,-3],
[-4.8,-4.92,-4.75,-4.6,-4.45,-4.3,-4.15,-4,-3.85,-3.7,-3.5,-3.3],
[-5,-4.85,-4.7,-4.55,-4.4,-4.25,-4.1,-3.95,-3.75,-3.55],
[-5.2,-4.72,-4.55,-4.4,-4.25,-4.05,-3.85],
[-5.4,-4.55,-4.35,-4.1]
];
const pointColor="#8dd3c7";
const rowsToPoints=rows=>{const out=[];rows.forEach(r=>{for(let i=1;i<r.length;i++)out.push([r[i],r[0]]);});return out;};
const points=[...lowerLeftPoints,...upperLeftPoints,...topPoints,...rightPoints,...bottomPoints,...midCloudPoints,...edgePoints,...rowsToPoints(flankRows)];
const corePoints=rowsToPoints([...coreRowsUpper,...coreRowsMiddle,...coreRowsLower]);
const fmt=v=>String(v).replace('-','\u2212');
const font='"Liberation Sans",Arial,sans-serif';
function axis(ticks,name,min,max,gap,margin){
  return {type:'value',min,max,name,nameLocation:'middle',nameGap:gap,
    nameTextStyle:{color:'#fff',fontSize:29,fontFamily:font,lineHeight:31},
    axisLine:{show:false},
    axisTick:{show:false,customValues:ticks},
    axisLabel:{color:'#fff',fontSize:25,fontFamily:font,margin,customValues:ticks,formatter:fmt,showMinLabel:true,showMaxLabel:true},
    splitLine:{show:true,customValues:ticks,lineStyle:{color:'#fff',width:2}}};
}
const chart=echarts.init(document.getElementById('c'),null,{renderer:'canvas'});
chart.setOption({
  backgroundColor:'#000',animation:false,
  grid:{left:154,right:17,top:18,bottom:133,containLabel:false,outerBoundsMode:'none'},
  xAxis:axis(xTicks,xLabel,-17.29,5.56,53,16),
  yAxis:axis(yTicks,yLabel,-15.71,6.95,74,19),
  series:[
    {type:'scatter',data:points,symbolSize:9.5,silent:true,itemStyle:{color:pointColor,opacity:1}},
    {type:'scatter',data:corePoints,symbolSize:10.5,silent:true,itemStyle:{color:pointColor,opacity:1}}
  ]
});
</script></body></html>
